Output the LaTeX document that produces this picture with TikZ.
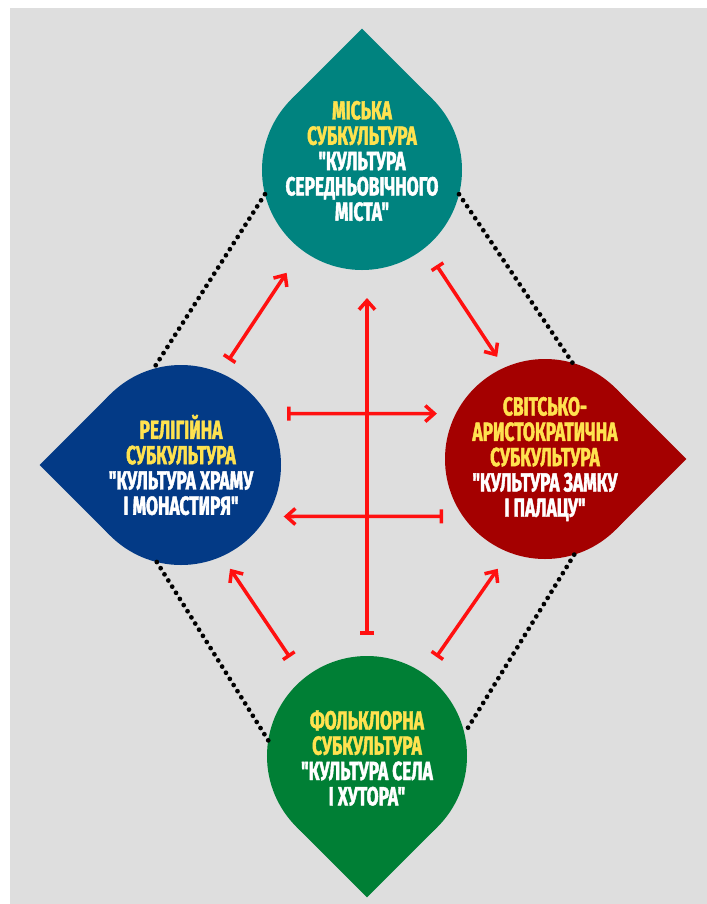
\documentclass[tikz,border=0pt]{standalone}
\usepackage{fontspec}
\usetikzlibrary{arrows.meta}
\newfontfamily\dropfont{Fira Sans}[FakeStretch=0.66, FakeBold=1.6, Ligatures=TeXOff]

\definecolor{bggray}{HTML}{DEDEDE}
\definecolor{cityteal}{HTML}{00837F}
\definecolor{churchblue}{HTML}{033A86}
\definecolor{castlered}{HTML}{A40000}
\definecolor{villagegreen}{HTML}{007F35}
\definecolor{titleyellow}{HTML}{FFE24F}
\definecolor{linkred}{HTML}{FF1010}

\tikzset{
  drop/.style={circle, minimum size=4cm, inner sep=0pt, outer sep=0pt},
  droptext/.style={text=white, align=center, font=\dropfont\bfseries\fontsize{14.9}{14.4}\selectfont},
  link/.style={draw=linkred, line width=2pt, {Bar[width=2.8mm]}-{Straight Barb[length=1.8mm, width=3.2mm]}},
  dotline/.style={line width=0.95mm, line cap=round, dash pattern=on 0pt off 1.45mm},
}

\begin{document}
\begin{tikzpicture}[x=0.2mm, y=-0.2mm]
  \useasboundingbox (0,0) rectangle (707,904);
  \fill[bggray] (10,8) rectangle (707,904);

  \node[drop, fill=cityteal] (city) at (362,170) {};
  \node[drop, fill=churchblue] (church) at (181,465) {};
  \node[drop, fill=castlered] (castle) at (545,459) {};
  \node[drop, fill=villagegreen] (village) at (367,756) {};
  \fill[cityteal] (city.center) -- (city.45) -- ++(135:2cm) -- (city.135) -- cycle;
  \fill[churchblue] (church.center) -- (church.135) -- ++(225:2cm) -- (church.225) -- cycle;
  \fill[castlered] (castle.center) -- (castle.45) -- ++(-45:2cm) -- (castle.-45) -- cycle;
  \fill[villagegreen] (village.center) -- (village.225) -- ++(-45:2cm) -- (village.315) -- cycle;

  \draw[dotline] (city.194) -- (church.106);
  \draw[dotline] (city.346) -- (castle.74);
  \draw[dotline] (church.256) -- (village.171);
  \draw[dotline] (castle.287) -- (village.13);

  \draw[link, shorten <=3.1mm, shorten >=5.5mm] (church.67) -- (city.233);
  \draw[link, shorten <=4.2mm, shorten >=2.6mm] (city.309) -- (castle.114);
  \draw[link, shorten <=4.2mm, shorten >=5.6mm] (village.north) -- (village.north |- city.south);
  \draw[link, shorten <=4.1mm, shorten >=3.8mm] (church.31) -- (castle.153);
  \draw[link, shorten <=4mm, shorten >=3.4mm] (castle.215) -- (church.329);
  \draw[link, shorten <=5.1mm, shorten >=3mm] (village.129) -- (church.294);
  \draw[link, shorten <=4.2mm, shorten >=4mm] (village.55) -- (castle.249);

  \node[droptext] (city-t) at (362,161) {\textcolor{titleyellow}{МІСЬКА}\\\textcolor{titleyellow}{СУБКУЛЬТУРА}\\"КУЛЬТУРА\\СЕРЕДНЬОВІЧНОГО\\МІСТА"};
  \node[droptext] (church-t) at (181,465) {\textcolor{titleyellow}{РЕЛІГІЙНА}\\\textcolor{titleyellow}{СУБКУЛЬТУРА}\\"КУЛЬТУРА ХРАМУ\\І МОНАСТИРЯ"};
  \node[droptext] (castle-t) at (545,459) {\textcolor{titleyellow}{СВІТСЬКО-}\\\textcolor{titleyellow}{АРИСТОКРАТИЧНА}\\\textcolor{titleyellow}{СУБКУЛЬТУРА}\\"КУЛЬТУРА ЗАМКУ\\І ПАЛАЦУ"};
  \node[droptext] (village-t) at (367,758) {\textcolor{titleyellow}{ФОЛЬКЛОРНА}\\\textcolor{titleyellow}{СУБКУЛЬТУРА}\\"КУЛЬТУРА СЕЛА\\І ХУТОРА"};
\end{tikzpicture}
\end{document}
